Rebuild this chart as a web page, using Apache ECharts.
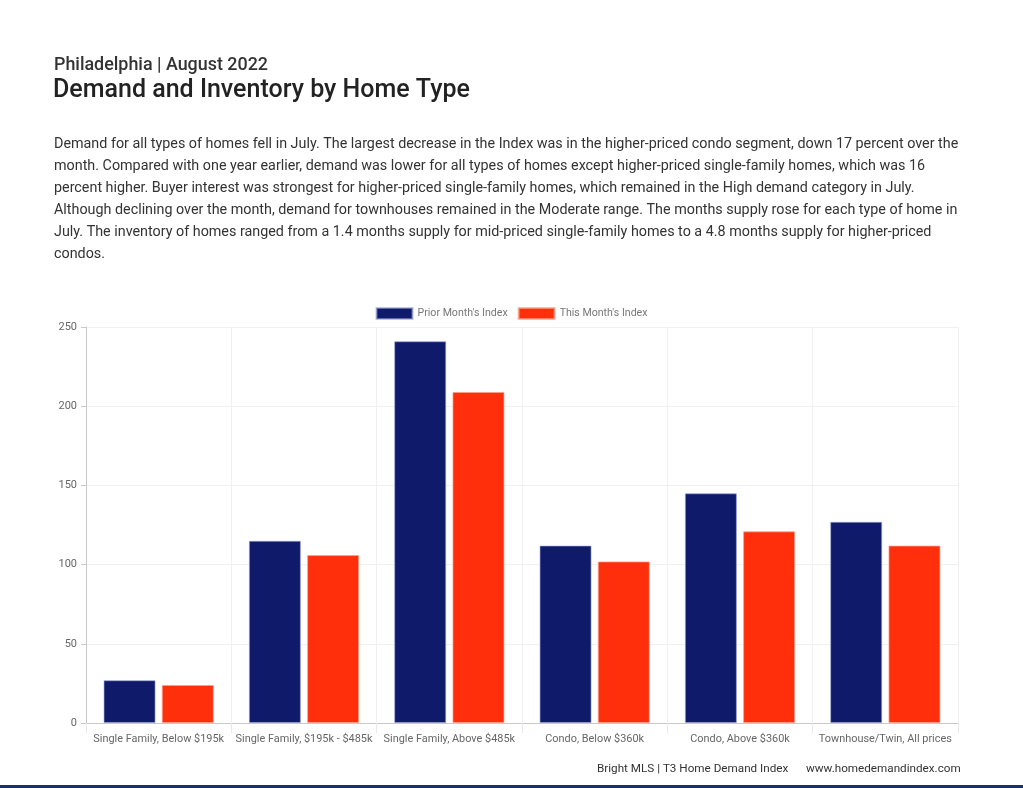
<!DOCTYPE html>
<html><head><meta charset="utf-8">
<script src="https://cdn.jsdelivr.net/npm/echarts@6/dist/echarts.min.js"></script>
<style>html,body{margin:0;padding:0;background:#fff}#c{width:1023px;height:788px}</style>
</head><body><div id="c"></div>
<script>
const categories = ["Single Family, Below $195k","Single Family, $195k - $485k","Single Family, Above $485k","Condo, Below $360k","Condo, Above $360k","Townhouse/Twin, All prices"];
const priorMonth = [27, 115, 241, 112, 145, 127];
const thisMonth = [24, 106, 209, 102, 121, 112];
const seriesNames = ["Prior Month's Index", "This Month's Index"];
const subtitle = "Philadelphia | August 2022";
const titleText = "Demand and Inventory by Home Type";
const paragraph = [
"Demand for all types of homes fell in July. The largest decrease in the Index was in the higher-priced condo segment, down 17 percent over the",
"month. Compared with one year earlier, demand was lower for all types of homes except higher-priced single-family homes, which was 16",
"percent higher. Buyer interest was strongest for higher-priced single-family homes, which remained in the High demand category in July.",
"Although declining over the month, demand for townhouses remained in the Moderate range. The months supply rose for each type of home in",
"July. The inventory of homes ranged from a 1.4 months supply for mid-priced single-family homes to a 4.8 months supply for higher-priced",
"condos."
];
const footerLeft = "Bright MLS | T3 Home Demand Index";
const footerRight = "www.homedemandindex.com";

const chart = echarts.init(document.getElementById('c'), null, {renderer:'canvas'});
const font = 'Roboto, "Noto Sans", sans-serif';
chart.setOption({
  animation:false,
  backgroundColor:'#fff',
  textStyle:{fontFamily:font},
  legend:{
    top:302, left:'center', itemWidth:36, itemHeight:11, itemGap:10,
    textStyle:{color:'#777', fontSize:10.6, fontFamily:font},
    data:seriesNames, icon:'rect'
  },
  grid:{left:86, right:65, top:327, bottom:65, containLabel:false},
  xAxis:{
    type:'category', data:categories,
    axisLine:{lineStyle:{color:'#c8c8c8'}},
    axisTick:{show:true, length:10, lineStyle:{color:'#e8e8e8'}},
    splitLine:{show:true, lineStyle:{color:'#f0f0f0'}},
    axisLabel:{color:'#666', fontSize:10.9, margin:11, interval:0, fontFamily:font}
  },
  yAxis:{
    type:'value', min:0, max:250, interval:50,
    axisLine:{show:true, lineStyle:{color:'#c8c8c8'}},
    axisTick:{show:true, length:5, lineStyle:{color:'#c8c8c8'}},
    splitLine:{lineStyle:{color:'#f0f0f0'}},
    axisLabel:{color:'#666', fontSize:11, margin:9, fontFamily:font}
  },
  series:[
    {name:seriesNames[0], type:'bar', data:priorMonth, barWidth:52, barGap:'12%',
     itemStyle:{color:'#0f1b6a', borderColor:'rgba(150,160,210,0.6)', borderWidth:1}},
    {name:seriesNames[1], type:'bar', data:thisMonth, barWidth:52, barGap:'12%',
     itemStyle:{color:'#fe2f0a', borderColor:'rgba(255,160,140,0.7)', borderWidth:1}}
  ],
  graphic:[
    {type:'text', left:54, top:57, style:{text:subtitle, fill:'#333', font:'500 17.9px '+font}},
    {type:'text', left:53, top:78, style:{text:titleText, fill:'#222', font:'500 25px '+font}},
    {type:'text', left:54, top:133, style:{text:paragraph.join('\n'), fill:'#333', font:'14.33px '+font, lineHeight:22}},
    {type:'text', left:597, top:763, style:{text:footerLeft, fill:'#333', font:'11.7px '+font}},
    {type:'text', left:806, top:763, style:{text:footerRight, fill:'#333', font:'11.7px '+font}},
    {type:'rect', left:0, top:785, shape:{width:1023, height:3}, style:{fill:'#1c3070'}}
  ]
});
</script></body></html>
